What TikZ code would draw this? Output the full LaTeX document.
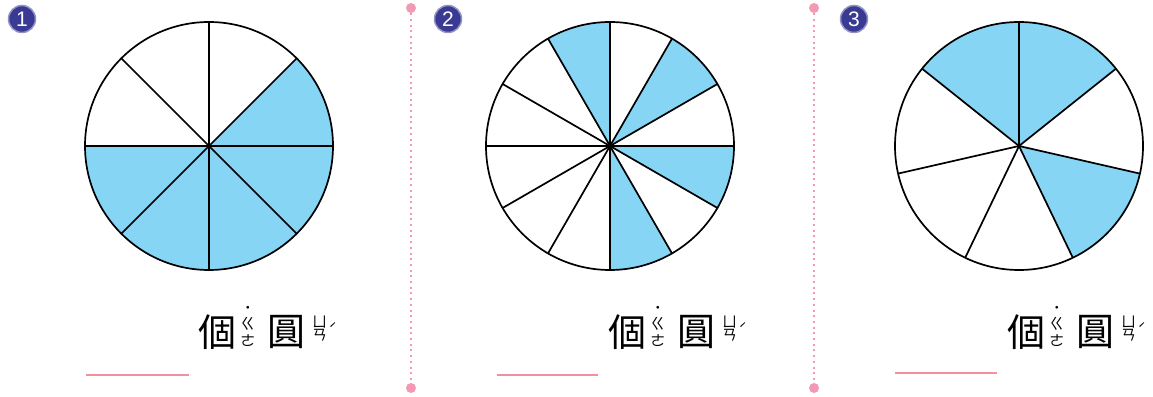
\documentclass[tikz,border=0pt]{standalone}
\usepackage{fontspec}
\usepackage{xcolor}
\usepackage{tikz}
\usetikzlibrary{positioning}
\newfontfamily\cjk{Noto Sans CJK TC}
\newfontfamily\numfont{Liberation Sans}
\definecolor{pieblue}{HTML}{87D5F5}
\definecolor{seppink}{HTML}{F29AB4}
\definecolor{blankpink}{HTML}{F2909E}
\definecolor{badgeblue}{HTML}{3A3A94}

\begin{document}
\begin{tikzpicture}[x=1pt, y=1pt,
  wedge/.style={fill=pieblue},
  spoke/.style={draw=black, line width=1.7pt},
  rim/.style={draw=black, line width=1.7pt},
  badge/.style={circle, fill=badgeblue, draw=badgeblue!55, line width=1.5pt, text=white, font=\numfont\fontsize{21}{21}\selectfont, minimum size=27pt, inner sep=0pt},
  sep/.style={seppink, line width=2pt, dash pattern=on 2pt off 3.7pt},
  sepdot/.style={circle, fill=seppink, minimum size=10pt, inner sep=0pt},
  hanzi/.style={font=\cjk\fontsize{38}{38}\selectfont, inner sep=0pt},
  zhuyin/.style={font=\cjk\fontsize{15}{16.5}\selectfont, inner sep=0pt, align=center},
  tone/.style={font=\cjk\fontsize{14}{14}\selectfont, inner sep=0pt},
  blank/.style={blankpink, line width=2pt}
]
\useasboundingbox (0,0) rectangle (1153,396);

% badges
\node[badge] (num1) at (22,377) {1};
\node[badge] (num2) at (448,377) {2};
\node[badge] (num3) at (854,377) {3};

% separators
\foreach \sx/\nm in {411/sepA, 814/sepB} {
  \node[sepdot] (\nm top) at (\sx,388) {};
  \node[sepdot] (\nm bot) at (\sx,8) {};
  \draw[sep] (\nm top) -- (\nm bot);
}

% pie 1: eighths
\coordinate (c1) at (209,250);
\foreach \a in {180,225,...,360}
  \fill[wedge] (c1) -- ++(\a:124) arc[start angle=\a, delta angle=45, radius=124] -- cycle;
\foreach \a in {0,45,...,315}
  \draw[spoke] (c1) -- ++(\a:124);
\draw[rim] (c1) circle[radius=124];

% pie 2: twelfths
\coordinate (c2) at (610,250);
\foreach \a in {90,30,330,270}
  \fill[wedge] (c2) -- ++(\a:124) arc[start angle=\a, delta angle=30, radius=124] -- cycle;
\foreach \a in {0,30,...,330}
  \draw[spoke] (c2) -- ++(\a:124);
\draw[rim] (c2) circle[radius=124];

% pie 3: sevenths
\coordinate (c3) at (1019,250);
\foreach \a in {38.5714,90,-64.2857}
  \fill[wedge] (c3) -- ++(\a:124) arc[start angle=\a, delta angle=51.4286, radius=124] -- cycle;
\foreach \k in {0,...,6}
  \draw[spoke] (c3) -- ++({90-51.4286*\k}:124);
\draw[rim] (c3) circle[radius=124];

% answer lines and units
\foreach \i/\hx/\bs/\be/\by in {1/217/86/189/21, 2/627/497/598/21, 3/1026/895/997/23} {
  \node[hanzi] (ge\i) at (\hx,64) {個};
  \node[zhuyin, right=4pt of ge\i, yshift=6pt] (gezy\i) {˙\\ㄍ\\ㄜ};
  \node[hanzi, right=12pt of gezy\i, yshift=-6pt] (yuan\i) {圓};
  \node[zhuyin, right=6pt of yuan\i, yshift=10pt] (yuanzyA\i) {ㄩ};
  \node[zhuyin, below=1pt of yuanzyA\i] (yuanzyB\i) {ㄢ};
  \node[tone, right=1pt of yuanzyB\i.north east, yshift=1pt] (yuantone\i) {ˊ};
  \coordinate (bl\i s) at (\bs,\by);
  \coordinate (bl\i e) at (\be,\by);
  \draw[blank] (bl\i s) -- (bl\i e);
}
\end{tikzpicture}
\end{document}
